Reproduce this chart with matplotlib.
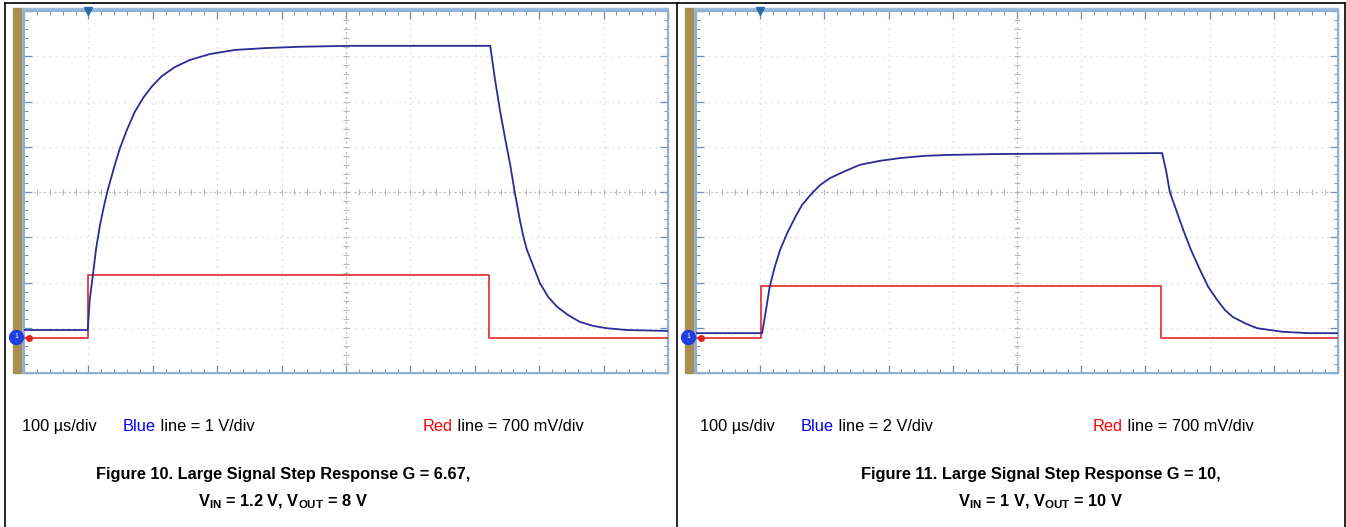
import matplotlib

matplotlib.use('Agg')

import matplotlib.pyplot as plt
from matplotlib.patches import Rectangle
from matplotlib.lines import Line2D
import numpy as np

plt.rcParams['font.family'] = ['Liberation Sans', 'DejaVu Sans']
plt.rcParams['mathtext.fontset'] = 'custom'
plt.rcParams['mathtext.rm'] = 'Liberation Sans'
plt.rcParams['mathtext.bf'] = 'Liberation Sans:bold'

# time in divisions (100 us/div), traces in screen divisions from the bottom
blue10_t = [0, 0.99, 1.02, 1.07, 1.12, 1.18, 1.24, 1.30, 1.40, 1.49, 1.60, 1.72, 1.85,
            1.99, 2.14, 2.34, 2.58, 2.89, 3.28, 3.74, 4.29, 5.06,
            7.24, 7.31, 7.39, 7.47, 7.55, 7.62, 7.70, 7.76, 7.81, 7.89, 8.01, 8.14,
            8.28, 8.45, 8.63, 8.84, 9.05, 9.36, 10.0]
blue10_v = [0.95, 0.95, 1.61, 2.17, 2.75, 3.27, 3.68, 4.04, 4.55, 4.97, 5.38, 5.77, 6.08,
            6.34, 6.56, 6.76, 6.92, 7.05, 7.14, 7.18, 7.21, 7.23,
            7.23, 6.52, 5.81, 5.19, 4.60, 4.00, 3.38, 2.98, 2.72, 2.43, 1.99, 1.68,
            1.46, 1.28, 1.13, 1.04, 0.99, 0.95, 0.93]
red10_t = [0, 0.99, 0.99, 7.22, 7.22, 10.0]
red10_v = [0.77, 0.77, 2.17, 2.17, 0.77, 0.77]

blue11_t = [0, 1.03, 1.09, 1.15, 1.23, 1.31, 1.42, 1.54, 1.65, 1.78, 1.93, 2.09, 2.32,
            2.55, 2.87, 3.18, 3.57, 3.96, 4.74,
            7.26, 7.32, 7.38, 7.48, 7.59, 7.71, 7.85, 7.98, 8.12, 8.24, 8.36, 8.55,
            8.74, 8.94, 9.14, 9.56, 10.0]
blue11_v = [0.88, 0.88, 1.39, 1.92, 2.36, 2.72, 3.09, 3.43, 3.71, 3.93, 4.15, 4.31, 4.46,
            4.60, 4.69, 4.75, 4.80, 4.82, 4.84,
            4.86, 4.49, 4.00, 3.60, 3.16, 2.72, 2.28, 1.90, 1.61, 1.39, 1.24, 1.10,
            0.99, 0.95, 0.91, 0.88, 0.88]
red11_t = [0, 1.01, 1.01, 7.24, 7.24, 10.0]
red11_v = [0.77, 0.77, 1.92, 1.92, 0.77, 0.77]

W, H = 1346, 527
fig = plt.figure(figsize=(W / 100, H / 100), dpi=100)
fig.patch.set_facecolor('white')


def px(x0, y0, x1, y1):
    # pixel box (top-left origin) -> figure fraction rect
    return [x0 / W, 1 - y1 / H, (x1 - x0) / W, (y1 - y0) / H]


def scope(left, right, bt, bv, rt, rv):
    top, bottom = 11, 373
    # light blue frame strip + gold bar, behind the axes
    fig.add_artist(Rectangle(((left - 3) / W, 1 - bottom / H), (right - left + 3) / W,
                             (bottom - 8) / H, transform=fig.transFigure,
                             color='#9DBBDC', zorder=-2))
    fig.add_artist(Rectangle(((left - 11) / W, 1 - bottom / H), 8 / W, (bottom - 8) / H,
                             transform=fig.transFigure, color='#A88E52', zorder=-1))
    ax = fig.add_axes(px(left, top, right, bottom))
    ax.set_zorder(1)
    ax.set_facecolor('white')
    ax.set_xlim(0, 10)
    ax.set_ylim(0, 8)
    ax.set_xticks(np.arange(0, 11, 1))
    ax.set_yticks(np.arange(0, 9, 1))
    ax.set_xticks(np.arange(0, 10.01, 0.2), minor=True)
    ax.set_yticks(np.arange(0, 8.01, 0.2), minor=True)
    ax.tick_params(which='both', direction='in', top=True, right=True,
                   labelbottom=False, labelleft=False, color='#6E8FB5')
    ax.tick_params(which='major', length=6, width=0.9)
    ax.tick_params(which='minor', length=3, width=0.7)
    for s in ax.spines.values():
        s.set_color('#8FB0D6')
        s.set_linewidth(1.5)
    ax.grid(True, which='major', color='#D2D2D2', linestyle=(0, (1, 4)), linewidth=0.9)
    ax.axhline(4, color='#A8A8A8', linestyle=(0, (1, 3)), linewidth=0.9)
    ax.axvline(5, color='#A8A8A8', linestyle=(0, (1, 3)), linewidth=0.9)
    ax.plot(np.arange(0, 10.01, 0.2), [4] * 51, '|', color='#B8B8B8', ms=4, mew=0.8)
    ax.plot([5] * 41, np.arange(0, 8.01, 0.2), '_', color='#B8B8B8', ms=4, mew=0.8)

    ax.plot(rt, rv, color='#E23A3A', lw=1.3, zorder=3)
    ax.plot(bt, bv, color='#2B2C95', lw=1.3, zorder=4)

    # trigger & channel markers
    ax.plot([1.0], [8.0], 'v', color='#2A6BB0', ms=6, clip_on=False, zorder=5)
    ax.plot([-0.12], [0.8], 'o', color='#1F3FE0', ms=10, clip_on=False, zorder=6)
    ax.text(-0.12, 0.8, '1', color='white', fontsize=5, ha='center', va='center', zorder=7,
            clip_on=False)
    ax.plot([0.08], [0.77], 'o', color='#E02020', ms=4, clip_on=False, zorder=6)
    return ax


scope(24, 668, blue10_t, blue10_v, red10_t, red10_v)
scope(696, 1338, blue11_t, blue11_v, red11_t, red11_v)

# table borders
for (x0, y0, x1, y1) in [(5, 3, 1345, 3), (5, 3, 5, 527), (677, 3, 677, 527),
                         (1345, 3, 1345, 527)]:
    fig.add_artist(Line2D([x0 / W, x1 / W], [1 - y0 / H, 1 - y1 / H], color='black', lw=1.2))

fs = 11.8
renderer = fig.canvas.get_renderer()


def colored_pair(x, y, word, color, rest):
    t = fig.text(x / W, y, word, fontsize=fs, color=color, va='baseline')
    bb = t.get_window_extent(renderer)
    fig.text(bb.x1 / W, y, rest, fontsize=fs, va='baseline')


def caption(x_div, x_blue, x_red, blue_txt, title_x, line1, line2):
    y = 1 - 431 / H
    fig.text(x_div / W, y, '100 µs/div', fontsize=fs, va='baseline')
    colored_pair(x_blue, y, 'Blue', '#0000FF', blue_txt)
    colored_pair(x_red, y, 'Red', '#FF0000', ' line = 700 mV/div')
    fig.text(title_x / W, 1 - 479 / H, line1, fontsize=fs, fontweight='bold', ha='center',
             va='baseline')
    fig.text(title_x / W, 1 - 506 / H, line2, fontsize=fs, fontweight='bold', ha='center',
             va='baseline')


caption(22, 123, 423, ' line = 1 V/div', 283,
        'Figure 10. Large Signal Step Response G = 6.67,',
        r'V$_\mathbf{IN}$ = 1.2 V, V$_\mathbf{OUT}$ = 8 V')
caption(700, 801, 1093, ' line = 2 V/div', 1041,
        'Figure 11. Large Signal Step Response G = 10,',
        r'V$_\mathbf{IN}$ = 1 V, V$_\mathbf{OUT}$ = 10 V')

fig.savefig('out.png', dpi=100)
